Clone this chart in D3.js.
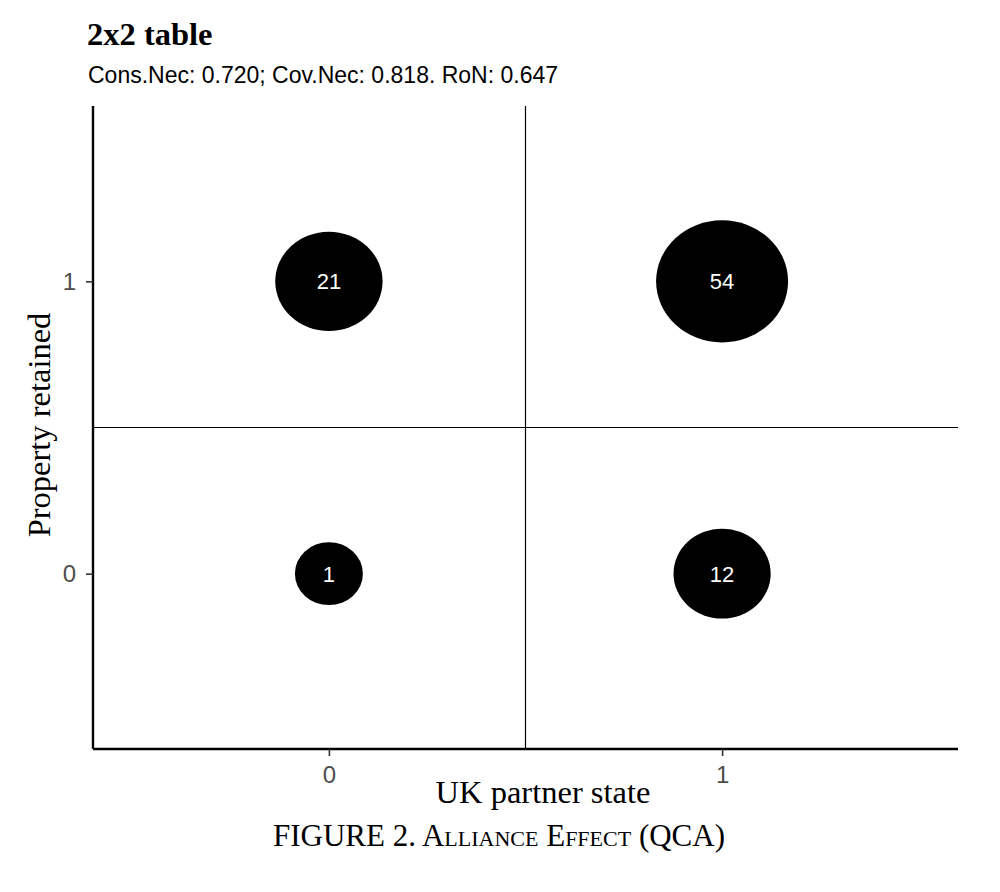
<!DOCTYPE html>
<html>
<head>
<meta charset="utf-8">
<script src="https://cdn.jsdelivr.net/npm/d3@7"></script>
<style>
  body { margin: 0; background: #fff; }
  svg { display: block; }
</style>
</head>
<body>
<svg id="chart" width="1000" height="892"></svg>
<script>
// ---- data ----
const xValues = [0, 0, 1, 1];            // UK partner state
const yValues = [1, 0, 1, 0];            // Property retained
const counts  = [21, 1, 54, 12];          // cases in each cell
const xTickLabels = ["0", "1"];
const yTickLabels = ["0", "1"];
const titleText = "2x2 table";
const subtitleText = "Cons.Nec: 0.720; Cov.Nec: 0.818. RoN: 0.647";
const xTitle = "UK partner state";
const yTitle = "Property retained";
const captionText = "FIGURE 2. Alliance Effect (QCA)";

// ---- layout ----
const svg = d3.select("#chart");
const L = 93, R = 958, T = 106, B = 749;
const serif = "'Liberation Serif', 'Times New Roman', serif";
const sans = "'Liberation Sans', Arial, Helvetica, sans-serif";

const x = d3.scaleLinear().domain([-0.6, 1.6]).range([L, R]);
const y = d3.scaleLinear().domain([-0.6, 1.6]).range([B, T]);

// ggplot-like area palette: rescale counts, then sqrt to radius range
const rescale = d3.scaleLinear().domain(d3.extent(counts)).range([0, 1]);
const size = d3.scaleSqrt().domain([0, 1]).range([34, 66]);
const aspect = 1.08; // horizontal stretch in the reference

// title + subtitle
svg.append("text").attr("x", 87).attr("y", 45)
  .attr("font-family", serif).attr("font-weight", "bold").attr("font-size", 32.5)
  .attr("fill", "#000").text(titleText);
svg.append("text").attr("x", 88).attr("y", 83)
  .attr("font-family", sans).attr("font-size", 23)
  .attr("fill", "#000").text(subtitleText);

// reference lines at 0.5
svg.append("line")
  .attr("x1", x(0.5)).attr("x2", x(0.5)).attr("y1", T).attr("y2", B)
  .attr("stroke", "#000").attr("stroke-width", 1.2);
svg.append("line")
  .attr("x1", L).attr("x2", R).attr("y1", y(0.5)).attr("y2", y(0.5))
  .attr("stroke", "#000").attr("stroke-width", 1.2);

// ellipses
const data = counts.map((c, i) => ({ x: xValues[i], y: yValues[i], n: c }));
svg.append("g").selectAll("ellipse").data(data).join("ellipse")
  .attr("cx", d => x(d.x)).attr("cy", d => y(d.y))
  .attr("rx", d => size(rescale(d.n)))
  .attr("ry", d => size(rescale(d.n)) / aspect)
  .attr("fill", "#000");
svg.append("g").selectAll("text").data(data).join("text")
  .attr("x", d => x(d.x)).attr("y", d => y(d.y) + 8)
  .attr("text-anchor", "middle")
  .attr("font-family", sans).attr("font-size", 22)
  .attr("fill", "#fff").text(d => d.n);

// axes
const xAxis = d3.axisBottom(x).tickValues([0, 1])
  .tickFormat((d, i) => xTickLabels[i]).tickSize(7).tickPadding(10).tickSizeOuter(0);
const gx = svg.append("g").attr("transform", `translate(0,${B})`).call(xAxis);
const yAxis = d3.axisLeft(y).tickValues([0, 1])
  .tickFormat((d, i) => yTickLabels[i]).tickSize(7).tickPadding(10).tickSizeOuter(0);
const gy = svg.append("g").attr("transform", `translate(${L},0)`).call(yAxis);

[gx, gy].forEach(g => {
  g.attr("font-size", 24).attr("font-family", sans);
  g.select(".domain").attr("stroke", "#000").attr("stroke-width", 2.4);
  g.selectAll(".tick line").attr("stroke", "#333").attr("stroke-width", 1.6);
  g.selectAll(".tick text").attr("font-family", sans).attr("font-size", 24)
    .attr("fill", "#4d4d4d");
});
gx.select(".domain").attr("d", `M${L},0H${R}`);
gy.select(".domain").attr("d", `M0,${T}V${B}`);

// axis titles
svg.append("text").attr("x", 543).attr("y", 803)
  .attr("text-anchor", "middle").attr("font-family", serif).attr("font-size", 32.5)
  .attr("fill", "#000").text(xTitle);
svg.append("text")
  .attr("transform", `translate(50,425) rotate(-90)`)
  .attr("text-anchor", "middle").attr("font-family", serif).attr("font-size", 32.5)
  .attr("fill", "#000").text(yTitle);

// caption
svg.append("text").attr("x", 499).attr("y", 846)
  .attr("text-anchor", "middle").attr("font-family", serif).attr("font-size", 31)
  .style("font-variant", "small-caps")
  .attr("fill", "#000").text(captionText);
</script>
</body>
</html>
